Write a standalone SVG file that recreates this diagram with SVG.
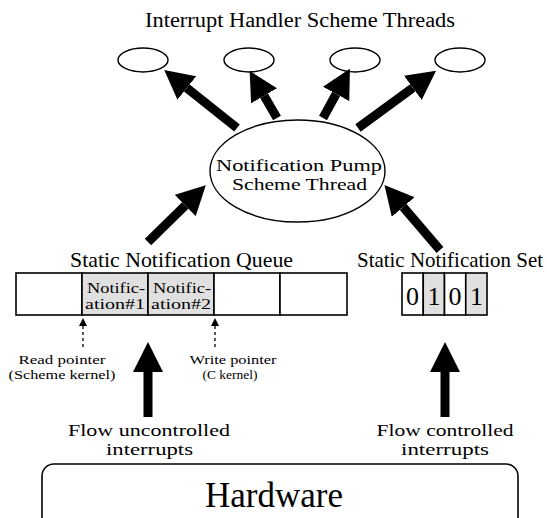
<svg xmlns="http://www.w3.org/2000/svg" width="547" height="518" viewBox="0 0 547 518">
<defs>
<style>
text{font-family:"Liberation Serif","Times New Roman",serif;fill:#000;text-anchor:middle}
.ell{fill:#fff;stroke:#000;stroke-width:1.4}
.box{stroke:#000;stroke-width:1.6}
.wh{fill:#fff}
.gr{fill:#e0e0e0}
.thick{stroke:#000;stroke-width:9;fill:none;marker-end:url(#head)}
.dot{stroke:#000;stroke-width:1.3;stroke-dasharray:3 3;fill:none;marker-end:url(#small)}
</style>
<marker id="head" markerUnits="userSpaceOnUse" markerWidth="30" markerHeight="30" viewBox="0 0 26 26" refX="0" refY="13" orient="auto">
<path d="M0,0 L25,13 L0,26 z" fill="#000"/>
</marker>
<marker id="small" markerUnits="userSpaceOnUse" markerWidth="8" markerHeight="8" viewBox="0 0 8 8" refX="0" refY="4" orient="auto">
<path d="M0,0 L8,4 L0,8 z" fill="#000"/>
</marker>
</defs>
<rect width="547" height="518" fill="#fff"/>

<text id="title" x="300" y="27" font-size="20" textLength="310" lengthAdjust="spacingAndGlyphs">Interrupt Handler Scheme Threads</text>

<g id="thread1"><ellipse class="ell" cx="143" cy="60" rx="25" ry="12"/></g>
<g id="thread2"><ellipse class="ell" cx="249" cy="60" rx="25" ry="12"/></g>
<g id="thread3"><ellipse class="ell" cx="355" cy="60" rx="25" ry="12"/></g>
<g id="thread4"><ellipse class="ell" cx="460" cy="60" rx="25" ry="12"/></g>

<g id="pump">
<ellipse class="ell" cx="297.5" cy="171" rx="87.5" ry="51"/>
<text x="299" y="171" font-size="17" textLength="166" lengthAdjust="spacingAndGlyphs">Notification Pump</text>
<text x="299.5" y="190" font-size="17" textLength="135" lengthAdjust="spacingAndGlyphs">Scheme Thread</text>
</g>

<g id="queue">
<text x="181.5" y="267" font-size="21" textLength="223" lengthAdjust="spacingAndGlyphs">Static Notification Queue</text>
<rect class="box wh" x="16" y="273" width="66" height="42"/>
<rect class="box gr" x="82" y="273" width="66" height="42"/>
<rect class="box gr" x="148" y="273" width="66" height="42"/>
<rect class="box wh" x="214" y="273" width="66" height="42"/>
<rect class="box wh" x="280" y="273" width="67" height="42"/>
<text x="116" y="293" font-size="14" textLength="58" lengthAdjust="spacingAndGlyphs">Notific-</text>
<text x="115" y="309" font-size="14" textLength="60" lengthAdjust="spacingAndGlyphs">ation#1</text>
<text x="182" y="293" font-size="14" textLength="58" lengthAdjust="spacingAndGlyphs">Notific-</text>
<text x="181" y="309" font-size="14" textLength="60" lengthAdjust="spacingAndGlyphs">ation#2</text>
</g>

<g id="set">
<text x="450" y="267" font-size="21" textLength="186" lengthAdjust="spacingAndGlyphs">Static Notification Set</text>
<rect class="box wh" x="402" y="273" width="21.25" height="42"/>
<rect class="box gr" x="423.25" y="273" width="21.25" height="42"/>
<rect class="box wh" x="444.5" y="273" width="21.25" height="42"/>
<rect class="box gr" x="465.75" y="273" width="21.25" height="42"/>
<text x="412.6" y="305" font-size="26">0</text>
<text x="433.9" y="305" font-size="26">1</text>
<text x="455.1" y="305" font-size="26">0</text>
<text x="476.4" y="305" font-size="26">1</text>
</g>

<g id="readptr">
<text x="62" y="364" font-size="13" textLength="87" lengthAdjust="spacingAndGlyphs">Read pointer</text>
<text x="62" y="379" font-size="13" textLength="107" lengthAdjust="spacingAndGlyphs">(Scheme kernel)</text>
</g>
<g id="writeptr">
<text x="233" y="364" font-size="13" textLength="87" lengthAdjust="spacingAndGlyphs">Write pointer</text>
<text x="230" y="379" font-size="13" textLength="55" lengthAdjust="spacingAndGlyphs">(C kernel)</text>
</g>

<g id="uncontrolled">
<text x="149" y="436" font-size="17" textLength="162" lengthAdjust="spacingAndGlyphs">Flow uncontrolled</text>
<text x="149.5" y="455" font-size="17" textLength="87" lengthAdjust="spacingAndGlyphs">interrupts</text>
</g>
<g id="controlled">
<text x="445" y="436" font-size="17" textLength="137" lengthAdjust="spacingAndGlyphs">Flow controlled</text>
<text x="445" y="455" font-size="17" textLength="88" lengthAdjust="spacingAndGlyphs">interrupts</text>
</g>

<g id="hardware">
<rect x="42" y="464" width="476" height="70" rx="12" ry="12" fill="#fff" stroke="#000" stroke-width="1.6"/>
<text x="274" y="507" font-size="35" textLength="138" lengthAdjust="spacingAndGlyphs">Hardware</text>
</g>

<g id="connectors">
<line class="thick" x1="237" y1="128" x2="186.8" y2="88"/>
<line class="thick" x1="277" y1="118" x2="264.1" y2="95.8"/>
<line class="thick" x1="323" y1="118" x2="336.1" y2="94"/>
<line class="thick" x1="358" y1="128" x2="412.8" y2="87.8"/>
<line class="thick" x1="148" y1="242" x2="185.2" y2="205.5"/>
<line class="thick" x1="440" y1="250" x2="403.2" y2="207"/>
<line class="dot" x1="83" y1="347" x2="83" y2="326"/>
<line class="dot" x1="215" y1="347" x2="215" y2="326"/>
<polygon points="143.5,417 152.5,417 152.5,372 163,372 148,342 133,372 143.5,372" fill="#000"/>
<polygon points="440.5,417 449.5,417 449.5,372 460,372 445,342 430,372 440.5,372" fill="#000"/>
</g>
</svg>
